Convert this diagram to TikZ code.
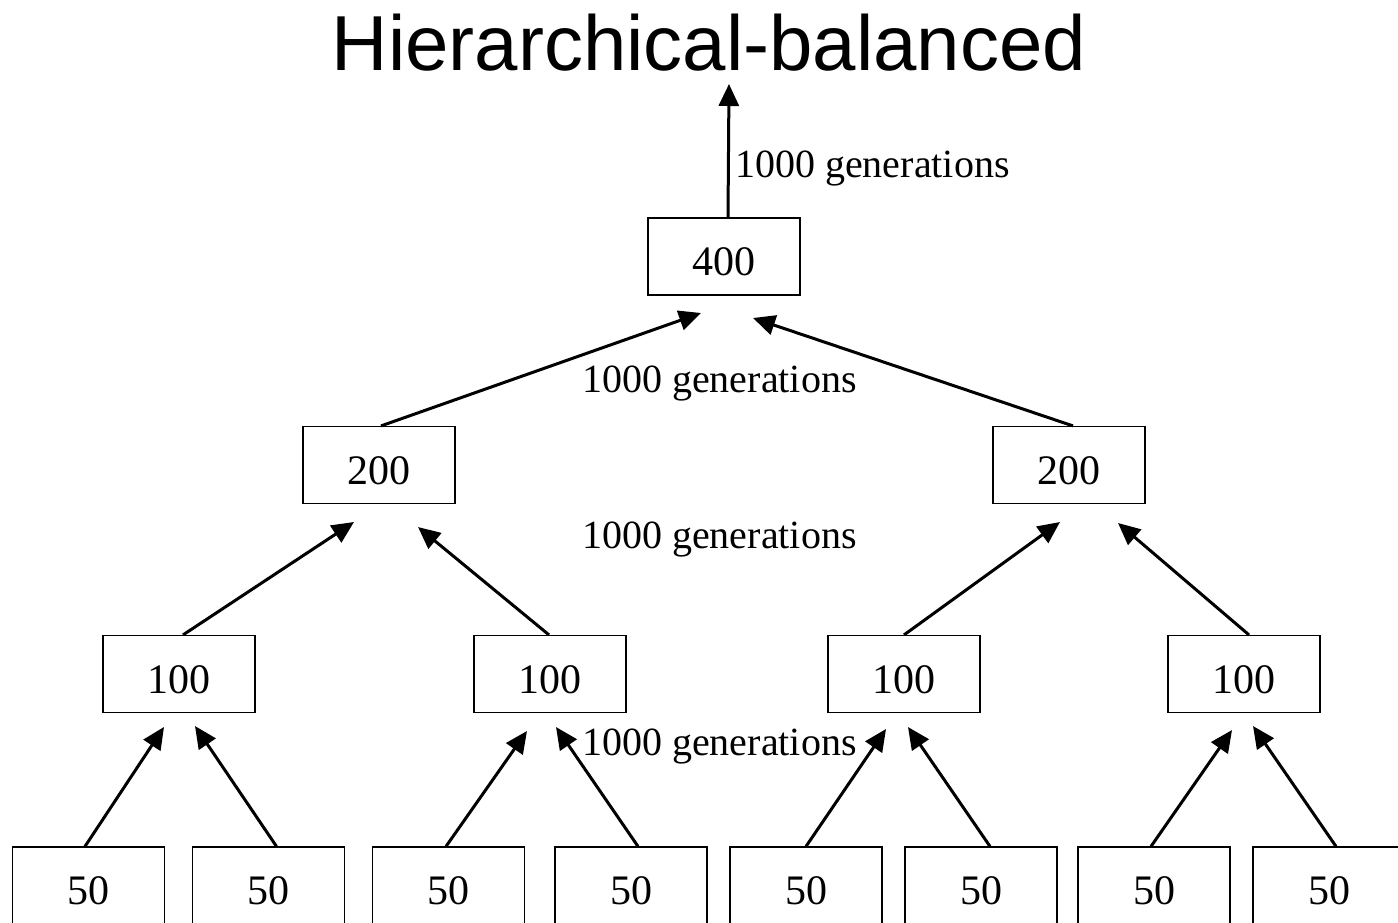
\documentclass[tikz,border=0pt]{standalone}
\usepackage{fontspec}
\setmainfont{Liberation Serif}
\newfontfamily\titlefont{Liberation Sans}
\usetikzlibrary{arrows.meta}
\begin{document}
\begin{tikzpicture}[x=1pt,y=-1pt,
  box/.style={draw,line width=1.2pt,minimum width=152pt,minimum height=77pt,inner sep=0pt,
    font=\fontsize{42}{44}\selectfont,text height=38pt,text depth=0pt},
  arr/.style={line width=3pt,-{Triangle[length=22pt,width=20pt]}},
  lab/.style={anchor=base west,inner sep=0pt,font=\fontsize{40}{42}\selectfont}]
\useasboundingbox (0,0) rectangle (1398,922);
\clip (0,0) rectangle (1398,922);
\node[anchor=base,inner sep=0pt,font=\titlefont\fontsize{78}{80}\selectfont] (title) at (709,70) {Hierarchical-balanced};
% boxes
\node[box] (r) at (724,256.5) {400};
\node[box] (m1) at (379,465) {200};
\node[box] (m2) at (1069,465) {200};
\node[box] (h1) at (179,674) {100};
\node[box] (h2) at (550,674) {100};
\node[box] (h3) at (904,674) {100};
\node[box] (h4) at (1244,674) {100};
\node[box] (b1) at (88.5,885.5) {50};
\node[box] (b2) at (268.5,885.5) {50};
\node[box] (b3) at (448.5,885.5) {50};
\node[box] (b4) at (631,885.5) {50};
\node[box] (b5) at (806,885.5) {50};
\node[box] (b6) at (981,885.5) {50};
\node[box] (b7) at (1154,885.5) {50};
\node[box] (b8) at (1329,885.5) {50};
% arrow tips
\coordinate (tr) at (729,84);
\coordinate (tr1) at (701,313);
\coordinate (tr2) at (753,318);
\coordinate (tm1) at (354,522);
\coordinate (tm2) at (418,527);
\coordinate (tm3) at (1060,522);
\coordinate (tm4) at (1118,523);
\coordinate (th1) at (164,727);
\coordinate (th2) at (195,726);
\coordinate (th3) at (527,731);
\coordinate (th4) at (556,727);
\coordinate (th5) at (886,729);
\coordinate (th6) at (908,727);
\coordinate (th7) at (1232,730);
\coordinate (th8) at (1253,726);
% arrows
\draw[arr] ([xshift=4pt]r.north) -- (tr);
\draw[arr] ([xshift=2pt]m1.north) -- (tr1);
\draw[arr] ([xshift=4pt]m2.north) -- (tr2);
\draw[arr] ([xshift=4pt]h1.north) -- (tm1);
\draw[arr] ([xshift=-1pt]h2.north) -- (tm2);
\draw[arr] ([xshift=0pt]h3.north) -- (tm3);
\draw[arr] ([xshift=5pt]h4.north) -- (tm4);
\draw[arr] ([xshift=-3.5pt]b1.north) -- (th1);
\draw[arr] ([xshift=8pt]b2.north) -- (th2);
\draw[arr] ([xshift=-2.5pt]b3.north) -- (th3);
\draw[arr] ([xshift=7pt]b4.north) -- (th4);
\draw[arr] ([xshift=0pt]b5.north) -- (th5);
\draw[arr] ([xshift=9pt]b6.north) -- (th6);
\draw[arr] ([xshift=-3pt]b7.north) -- (th7);
\draw[arr] ([xshift=7pt]b8.north) -- (th8);
% labels
\node[lab] (l1) at (735,177) {1000 generations};
\node[lab] (l2) at (582,392) {1000 generations};
\node[lab] (l3) at (582,548) {1000 generations};
\node[lab] (l4) at (582,755) {1000 generations};
\end{tikzpicture}
\end{document}
